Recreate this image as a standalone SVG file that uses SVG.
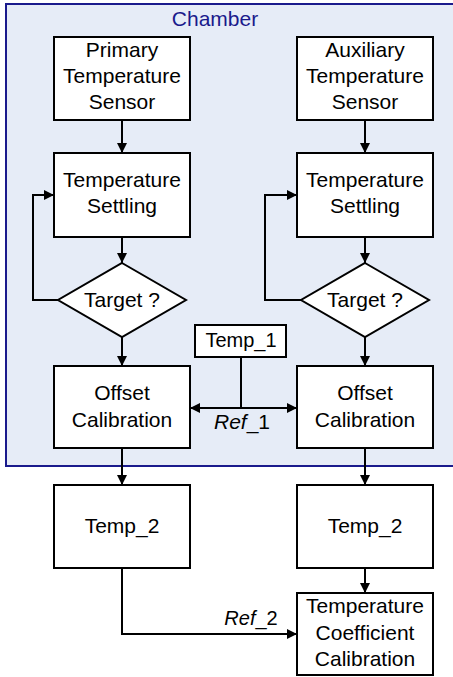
<svg xmlns="http://www.w3.org/2000/svg" width="453" height="677" viewBox="0 0 453 677">
<defs>
<marker id="ah" markerWidth="10" markerHeight="10" refX="10" refY="5" orient="auto" markerUnits="userSpaceOnUse">
<path d="M0,0 L10,5 L0,10 Z" fill="#000"/>
</marker>
<style>
.box{fill:#fff;stroke:#000;stroke-width:2}
.t{font-family:"Liberation Sans",Arial,sans-serif;font-size:21px;fill:#000;text-anchor:middle}
.s{font-size:20px}
.c{fill:none;stroke:#000;stroke-width:2}
</style>
</defs>
<g id="chamber">
<rect x="6" y="4" width="452" height="462" fill="#E6ECF7" stroke="#1A1A8C" stroke-width="2"/>
<text class="t" x="215" y="26" style="fill:#1A1A8C">Chamber</text>
</g>
<g id="connectors">
<path class="c" d="M122,120 V153" marker-end="url(#ah)"/>
<path class="c" d="M122,237 V263" marker-end="url(#ah)"/>
<path class="c" d="M58,300 H33 V195 H54" marker-end="url(#ah)"/>
<path class="c" d="M122,337 V366" marker-end="url(#ah)"/>
<path class="c" d="M365,120 V153" marker-end="url(#ah)"/>
<path class="c" d="M365,237 V263" marker-end="url(#ah)"/>
<path class="c" d="M301,300 H265 V195 H297" marker-end="url(#ah)"/>
<path class="c" d="M365,337 V366" marker-end="url(#ah)"/>
<path class="c" d="M241,357 V408"/>
<path class="c" d="M241,408 H190" marker-end="url(#ah)"/>
<path class="c" d="M241,408 H297" marker-end="url(#ah)"/>
<path class="c" d="M122,448 V485" marker-end="url(#ah)"/>
<path class="c" d="M365,448 V485" marker-end="url(#ah)"/>
<path class="c" d="M365,568 V593" marker-end="url(#ah)"/>
<path class="c" d="M122,568 V634 H297" marker-end="url(#ah)"/>
<text class="t" x="242" y="429"><tspan font-style="italic">Ref</tspan>_1</text>
<text class="t s" x="251" y="625"><tspan font-style="italic">Ref</tspan>_2</text>
</g>
<g id="primary-sensor">
<rect class="box" x="54" y="37" width="136" height="83"/>
<text class="t" x="122" y="57">Primary</text>
<text class="t" x="122" y="83">Temperature</text>
<text class="t" x="122" y="109">Sensor</text>
</g>
<g id="auxiliary-sensor">
<rect class="box" x="297" y="37" width="136" height="83"/>
<text class="t" x="365" y="57">Auxiliary</text>
<text class="t" x="365" y="83">Temperature</text>
<text class="t" x="365" y="109">Sensor</text>
</g>
<g id="settling-left">
<rect class="box" x="54" y="153" width="136" height="84"/>
<text class="t" x="122" y="187">Temperature</text>
<text class="t" x="122" y="213">Settling</text>
</g>
<g id="settling-right">
<rect class="box" x="297" y="153" width="136" height="84"/>
<text class="t" x="365" y="187">Temperature</text>
<text class="t" x="365" y="213">Settling</text>
</g>
<g id="target-left">
<path class="box" d="M122,263 L186,300 L122,337 L58,300 Z"/>
<text class="t" x="122" y="307">Target ?</text>
</g>
<g id="target-right">
<path class="box" d="M365,263 L429,300 L365,337 L301,300 Z"/>
<text class="t" x="365" y="307">Target ?</text>
</g>
<g id="temp1">
<rect class="box" x="195" y="325" width="91" height="32"/>
<text class="t s" x="241" y="347">Temp_1</text>
</g>
<g id="offset-left">
<rect class="box" x="54" y="366" width="136" height="82"/>
<text class="t" x="122" y="400">Offset</text>
<text class="t" x="122" y="427">Calibration</text>
</g>
<g id="offset-right">
<rect class="box" x="297" y="366" width="136" height="82"/>
<text class="t" x="365" y="400">Offset</text>
<text class="t" x="365" y="427">Calibration</text>
</g>
<g id="temp2-left">
<rect class="box" x="54" y="485" width="136" height="83"/>
<text class="t" x="122" y="533">Temp_2</text>
</g>
<g id="temp2-right">
<rect class="box" x="297" y="485" width="136" height="83"/>
<text class="t" x="365" y="533">Temp_2</text>
</g>
<g id="tcc">
<rect class="box" x="297" y="593" width="136" height="82"/>
<text class="t" x="365" y="613">Temperature</text>
<text class="t" x="365" y="640">Coefficient</text>
<text class="t" x="365" y="666">Calibration</text>
</g>
</svg>
